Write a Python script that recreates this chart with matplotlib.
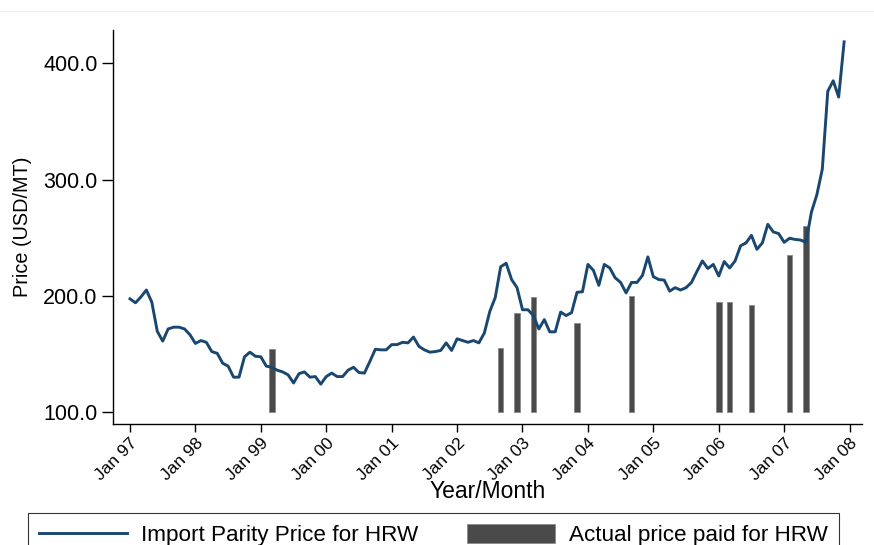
import numpy as np
import matplotlib
matplotlib.use('Agg')
import matplotlib.pyplot as plt
from matplotlib.lines import Line2D

plt.rcParams['font.family'] = ['Liberation Sans', 'DejaVu Sans']

# Import parity price, monthly Jan 1997 - Dec 2007 (USD/MT)
parity_price = [
    197.4, 194, 199, 205, 194.5, 169.5, 161, 171.5, 173, 173, 171.5, 166.5,      # 1997
    159, 161.5, 160, 152, 150.5, 142, 139.5, 130, 130, 147.5, 151.5, 148,        # 1998
    147.5, 139.5, 138.5, 136, 134.5, 132, 125, 133, 134.5, 130, 130.5, 124,      # 1999
    130.5, 133.5, 130.5, 130.5, 136, 138.5, 134, 133.5, 143.5, 154, 153.5, 153.5,  # 2000
    158, 158, 160, 159.5, 164.5, 156.5, 153.5, 151.5, 152, 153, 159.5, 153,      # 2001
    163, 161.5, 160, 161.5, 159.5, 168, 186.5, 198.5, 225, 228, 214, 207,        # 2002
    188, 188, 183, 171.5, 179.5, 169, 169, 186, 183, 185.5, 203, 203.5,          # 2003
    227, 222, 209, 227, 224, 215.5, 211.5, 202.5, 211.5, 211.5, 217.5, 233.5,    # 2004
    216.5, 214, 213.5, 204, 207, 205, 207, 211.5, 221, 230, 223.5, 227,          # 2005
    217, 229.5, 224, 230, 243, 245.5, 252, 240, 245.5, 261.5, 255, 253.5,        # 2006
    246, 249.5, 248.5, 248, 246, 272, 287, 309, 376, 385, 371, 418.5,            # 2007
]

# Actual price paid: months counted from Jan 1997
paid_month = [26, 68, 71, 74, 82, 92, 108, 110, 114, 121, 124]
paid_price = [154.5, 155.5, 185.5, 199, 177, 199.5, 195, 195, 192, 235, 260]

year_ticks = list(range(1997, 2009))
year_labels = ['Jan %02d' % (y % 100) for y in year_ticks]

t = 1997 + np.arange(len(parity_price)) / 12
t_paid = 1997 + np.array(paid_month) / 12
paid = np.array(paid_price)

fig = plt.figure(figsize=(8.74, 5.45), dpi=100)
ax = fig.add_axes([113 / 874, 121 / 545, 749 / 874, 394 / 545])

bars = ax.bar(t_paid, paid - 100, bottom=100, width=0.085,
              color='#4a4a4a', edgecolor='#8a8a8a', linewidth=0.6,
              label='Actual price paid for HRW', zorder=2)
line, = ax.plot(t, parity_price, color='#1a476f', linewidth=2.1,
                label='Import Parity Price for HRW', zorder=3)

ax.set_xlim(1996.74, 2008.19)
ax.set_ylim(89.7, 428.7)
ax.set_yticks([100, 200, 300, 400])
ax.set_yticklabels(['%.1f' % v for v in [100, 200, 300, 400]])
ax.set_xticks(year_ticks)
ax.set_xticklabels(year_labels, rotation=45, ha='right', va='top',
                   rotation_mode='anchor', fontsize=12.5)

ax.tick_params(axis='y', labelsize=15.5, length=8, width=1, pad=3)
ax.tick_params(axis='x', length=6, width=1, pad=2)

for s in ['top', 'right']:
    ax.spines[s].set_visible(False)
for s in ['left', 'bottom']:
    ax.spines[s].set_linewidth(1.0)

ax.set_ylabel('Price (USD/MT)', fontsize=14.3, labelpad=8)
ax.set_xlabel('Year/Month', fontsize=16.5, va='center')
ax.xaxis.set_label_coords(0.5, (545 - 492 - 121) / 394)

leg = fig.legend(handles=[line, bars], ncol=2,
                 loc='upper center', bbox_to_anchor=(433.5 / 874, 1 - 513 / 545),
                 fontsize=16.2, frameon=True, fancybox=False, edgecolor='black',
                 handlelength=3.9, handleheight=0.9, borderpad=0.5,
                 columnspacing=2.2, handletextpad=0.6, borderaxespad=0)
leg.get_frame().set_linewidth(0.8)

# faint rule left over from the page above the chart
fig.add_artist(Line2D([0, 1], [1 - 10.7 / 545] * 2, color='#ececec', linewidth=0.8))

fig.savefig('out.png', dpi=100)
